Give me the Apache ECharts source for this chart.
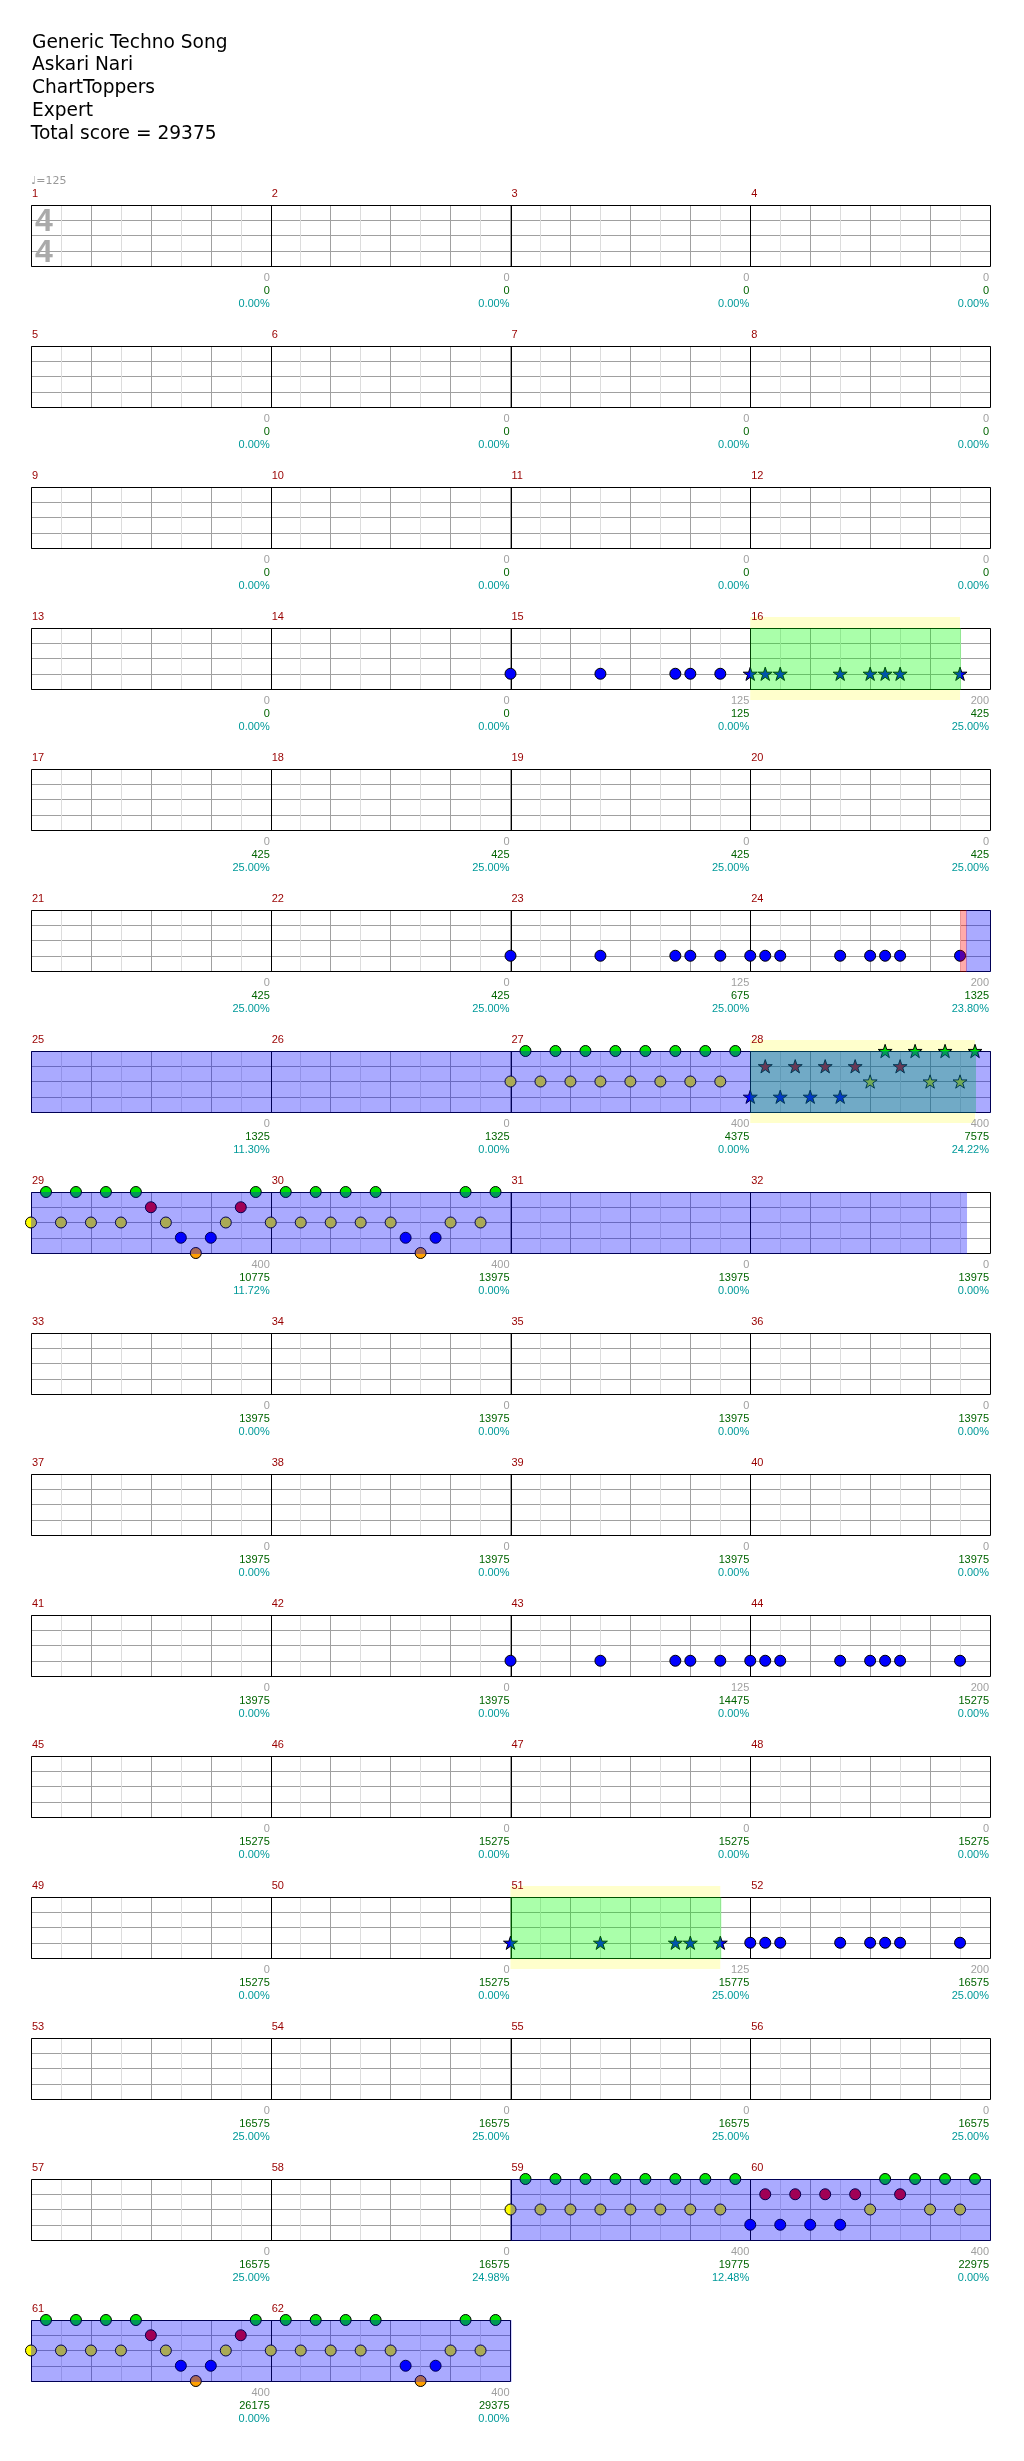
<!DOCTYPE html>
<html><head><meta charset="utf-8"><title>Chart</title>
<script src="https://cdn.jsdelivr.net/npm/echarts@6.0.0/dist/echarts.min.js"></script>
<style>html,body{margin:0;padding:0;background:#fff;}#chart{width:1024px;height:2461px;}</style>
</head><body><div id="chart"></div>
<script>
// ---------------- DATA ----------------
const headerLines = ['Generic Techno Song', 'Askari Nari', 'ChartToppers', 'Expert', 'Total score = 29375'];
const tempoLabel = '\u2669=125';
const timeSignature = ['4', '4'];
const measureCount = 62;
const measuresPerRow = 4;
// lanes: 0 green, 1 red, 2 yellow, 3 blue, 4 orange ; notes are [measure, beat]
const greenNotes = [
  [27,0.25],[27,0.75],[27,1.25],[27,1.75],[27,2.25],[27,2.75],[27,3.25],[27,3.75],
  [28,2.25],[28,2.75],[28,3.25],[28,3.75],
  [29,0.25],[29,0.75],[29,1.25],[29,1.75],[29,3.75],
  [30,0.25],[30,0.75],[30,1.25],[30,1.75],[30,3.25],[30,3.75],
  [59,0.25],[59,0.75],[59,1.25],[59,1.75],[59,2.25],[59,2.75],[59,3.25],[59,3.75],
  [60,2.25],[60,2.75],[60,3.25],[60,3.75],
  [61,0.25],[61,0.75],[61,1.25],[61,1.75],[61,3.75],
  [62,0.25],[62,0.75],[62,1.25],[62,1.75],[62,3.25],[62,3.75]
];
const redNotes = [
  [28,0.25],[28,0.75],[28,1.25],[28,1.75],[28,2.5],
  [29,2],[29,3.5],
  [60,0.25],[60,0.75],[60,1.25],[60,1.75],[60,2.5],
  [61,2],[61,3.5]
];
const yellowNotes = [
  [27,0],[27,0.5],[27,1],[27,1.5],[27,2],[27,2.5],[27,3],[27,3.5],
  [28,2],[28,3],[28,3.5],
  [29,0],[29,0.5],[29,1],[29,1.5],[29,2.25],[29,3.25],
  [30,0],[30,0.5],[30,1],[30,1.5],[30,2],[30,3],[30,3.5],
  [59,0],[59,0.5],[59,1],[59,1.5],[59,2],[59,2.5],[59,3],[59,3.5],
  [60,2],[60,3],[60,3.5],
  [61,0],[61,0.5],[61,1],[61,1.5],[61,2.25],[61,3.25],
  [62,0],[62,0.5],[62,1],[62,1.5],[62,2],[62,3],[62,3.5]
];
const blueNotes = [
  [15,0],[15,1.5],[15,2.75],[15,3],[15,3.5],
  [16,0],[16,0.25],[16,0.5],[16,1.5],[16,2],[16,2.25],[16,2.5],[16,3.5],
  [23,0],[23,1.5],[23,2.75],[23,3],[23,3.5],
  [24,0],[24,0.25],[24,0.5],[24,1.5],[24,2],[24,2.25],[24,2.5],[24,3.5],
  [28,0],[28,0.5],[28,1],[28,1.5],
  [29,2.5],[29,3],
  [30,2.25],[30,2.75],
  [43,0],[43,1.5],[43,2.75],[43,3],[43,3.5],
  [44,0],[44,0.25],[44,0.5],[44,1.5],[44,2],[44,2.25],[44,2.5],[44,3.5],
  [51,0],[51,1.5],[51,2.75],[51,3],[51,3.5],
  [52,0],[52,0.25],[52,0.5],[52,1.5],[52,2],[52,2.25],[52,2.5],[52,3.5],
  [60,0],[60,0.5],[60,1],[60,1.5],
  [61,2.5],[61,3],
  [62,2.25],[62,2.75]
];
const orangeNotes = [[29,2.75],[30,2.5],[61,2.75],[62,2.5]];
// star phrases, star power, activation: [start, end] in measure units
const starPhrases = [[16, 16.875], [28, 28.9375], [51, 51.875]];
const starPowerRanges = [[24.9, 32.9], [59, 63]];
const activationRanges = [[24.875, 24.9]];
const measureScores = [
  0,0,0,0, 0,0,0,0, 0,0,0,0,
  0,0,125,200,
  0,0,0,0,
  0,0,125,200,
  0,0,400,400,
  400,400,0,0,
  0,0,0,0, 0,0,0,0,
  0,0,125,200,
  0,0,0,0,
  0,0,125,200,
  0,0,0,0,
  0,0,400,400,
  400,400
];
const cumulativeScores = [
  0,0,0,0, 0,0,0,0, 0,0,0,0,
  0,0,125,425,
  425,425,425,425,
  425,425,675,1325,
  1325,1325,4375,7575,
  10775,13975,13975,13975,
  13975,13975,13975,13975, 13975,13975,13975,13975,
  13975,13975,14475,15275,
  15275,15275,15275,15275,
  15275,15275,15775,16575,
  16575,16575,16575,16575,
  16575,16575,19775,22975,
  26175,29375
];
const percentages = [
  '0.00%','0.00%','0.00%','0.00%', '0.00%','0.00%','0.00%','0.00%', '0.00%','0.00%','0.00%','0.00%',
  '0.00%','0.00%','0.00%','25.00%',
  '25.00%','25.00%','25.00%','25.00%',
  '25.00%','25.00%','25.00%','23.80%',
  '11.30%','0.00%','0.00%','24.22%',
  '11.72%','0.00%','0.00%','0.00%',
  '0.00%','0.00%','0.00%','0.00%', '0.00%','0.00%','0.00%','0.00%',
  '0.00%','0.00%','0.00%','0.00%',
  '0.00%','0.00%','0.00%','0.00%',
  '0.00%','0.00%','25.00%','25.00%',
  '25.00%','25.00%','25.00%','25.00%',
  '25.00%','24.98%','12.48%','0.00%',
  '0.00%','0.00%'
];

// ---------------- LAYOUT / STYLE ----------------
const FONT = '"DejaVu Sans", sans-serif';
const SMALL_FONT = '11px "Liberation Sans", Arial, sans-serif';
const laneColors = ['#00e600', '#f00000', '#ffff00', '#0000ff', '#ffa000'];
const laneNotes = [greenNotes, redNotes, yellowNotes, blueNotes, orangeNotes];
const STAR = 'path://M0,-10L2.245,-3.09L9.51,-3.09L3.633,1.18L5.878,8.09L0,3.82L-5.878,8.09L-3.633,1.18L-9.51,-3.09L-2.245,-3.09Z';
const LEFT = 31, ROW_TOP = 205, ROW_STEP = 141, STAFF_H = 61, MEASURE_W = 239.75;

const rows = [];
for (let r = 0; r * measuresPerRow < measureCount; r++) {
  rows.push({ first: r * measuresPerRow + 1, count: Math.min(measuresPerRow, measureCount - r * measuresPerRow) });
}
function clipRanges(ranges, a, b) {
  const out = [];
  ranges.forEach(([s, e]) => {
    const s2 = Math.max(s, a), e2 = Math.min(e, b);
    if (e2 > s2) out.push([s2, e2, 0]);
  });
  return out;
}
function isStar(pos) {
  return starPhrases.some(([a, b]) => pos >= a - 1e-9 && pos <= b + 1e-9);
}
function overlayRenderer(color) {
  return function (params, api) {
    const p0 = api.coord([api.value(0), 0]);
    const p1 = api.coord([api.value(1), 4]);
    return { type: 'rect', shape: { x: p0[0], y: Math.floor(p0[1]), width: p1[0] - p0[0] + 1, height: Math.floor(p1[1]) - Math.floor(p0[1]) + 1 }, style: { fill: color } };
  };
}
function yellowRenderer(params, api) {
  const p0 = api.coord([api.value(0), 0]);
  const p1 = api.coord([api.value(1), 4]);
  return { type: 'group', children: [
    { type: 'rect', shape: { x: p0[0], y: p0[1] - 11, width: p1[0] - p0[0], height: 11 }, style: { fill: '#ffffcc' } },
    { type: 'rect', shape: { x: p0[0], y: p1[1], width: p1[0] - p0[0], height: 11 }, style: { fill: '#ffffcc' } }
  ] };
}
function frameRenderer(params, api) {
  const p0 = api.coord([api.value(0), 0]);
  const p1 = api.coord([api.value(1), 4]);
  const x0 = Math.floor(p0[0]) + 0.5, y0 = Math.floor(p0[1]) + 0.5;
  const x1 = Math.floor(p1[0]) + 0.5, y1 = Math.floor(p1[1]) + 0.5;
  return { type: 'rect', shape: { x: x0, y: y0, width: x1 - x0, height: y1 - y0 }, style: { fill: null, stroke: '#000', lineWidth: 1 } };
}
function measureLineRenderer(params, api) {
  const m = api.value(0);
  const p0 = api.coord([m, 0]);
  const p1 = api.coord([m, 4]);
  const x = Math.floor(p0[0] + 0.5) + 0.5;
  return { type: 'line', shape: { x1: x, y1: Math.floor(p0[1]), x2: x, y2: Math.floor(p1[1]) + 1 }, style: { stroke: '#000', lineWidth: 1 } };
}
function labelRenderer(params, api) {
  const m = api.value(0);
  const i = m - 1;
  const s = api.coord([m, 0]);
  const e = api.coord([m + 1, 4]);
  return { type: 'group', children: [
    { type: 'text', x: s[0] + 1, y: s[1] - 11, style: { text: String(m), fill: '#990000', font: SMALL_FONT, align: 'left', verticalAlign: 'middle' } },
    { type: 'text', x: e[0] - 1, y: e[1] + 11.5, style: { text: String(measureScores[i]), fill: '#a0a0a0', font: SMALL_FONT, align: 'right', verticalAlign: 'middle' } },
    { type: 'text', x: e[0] - 1, y: e[1] + 24.5, style: { text: String(cumulativeScores[i]), fill: '#006400', font: SMALL_FONT, align: 'right', verticalAlign: 'middle' } },
    { type: 'text', x: e[0] - 1, y: e[1] + 37.8, style: { text: percentages[i], fill: '#009a9a', font: SMALL_FONT, align: 'right', verticalAlign: 'middle' } }
  ] };
}

const grids = [], xAxes = [], yAxes = [], series = [];
const hidden = { axisLine: { show: false }, axisTick: { show: false }, axisLabel: { show: false } };
rows.forEach((row, r) => {
  const x0 = row.first, x1 = row.first + row.count;
  grids.push({ left: LEFT, top: ROW_TOP + ROW_STEP * r, width: MEASURE_W * row.count, height: STAFF_H, outerBoundsMode: 'none', containLabel: false, show: false });
  xAxes.push(Object.assign({ gridIndex: r, type: 'value', min: x0, max: x1, interval: 0.25,
    splitLine: { show: true, lineStyle: { color: '#a0a0a0', width: 1 } },
    minorTick: { show: false, splitNumber: 2 },
    minorSplitLine: { show: true, lineStyle: { color: '#dcdcdc', width: 1 } } }, hidden));
  yAxes.push(Object.assign({ gridIndex: r, type: 'value', inverse: true, min: 0, max: 4, interval: 1,
    splitLine: { show: true, lineStyle: { color: '#a0a0a0', width: 1 } } }, hidden));
  const ax = { xAxisIndex: r, yAxisIndex: r };
  series.push(Object.assign({ type: 'custom', z: 1, silent: true, encode: { x: [0, 1], y: 2 }, data: clipRanges(starPhrases, x0, x1), renderItem: yellowRenderer }, ax));
  const bars = [];
  for (let m = x0 + 1; m < x1; m++) bars.push([m, 0]);
  series.push(Object.assign({ type: 'custom', z: 2, silent: true, encode: { x: 0, y: 1 }, data: bars, renderItem: measureLineRenderer }, ax));
  series.push(Object.assign({ type: 'custom', z: 2, silent: true, encode: { x: [0, 1], y: 2 }, data: [[x0, x1, 0]], renderItem: frameRenderer }, ax));
  const notes = [];
  laneNotes.forEach((list, lane) => {
    list.forEach(([m, b]) => {
      if (m < x0 || m >= x1) return;
      const pos = m + b / 4;
      const star = isStar(pos);
      notes.push({ value: [pos, lane], symbol: star ? STAR : 'circle', symbolSize: star ? 14 : 11,
        itemStyle: { color: laneColors[lane], borderColor: '#000', borderWidth: 1, opacity: 1 } });
    });
  });
  series.push(Object.assign({ type: 'scatter', z: 3, clip: false, silent: true, symbolKeepAspect: true, data: notes }, ax));
  series.push(Object.assign({ type: 'custom', z: 4, silent: true, encode: { x: [0, 1], y: 2 }, data: clipRanges(starPhrases, x0, x1), renderItem: overlayRenderer('rgba(0,255,0,0.333)') }, ax));
  series.push(Object.assign({ type: 'custom', z: 4, silent: true, encode: { x: [0, 1], y: 2 }, data: clipRanges(activationRanges, x0, x1), renderItem: overlayRenderer('rgba(255,0,0,0.333)') }, ax));
  series.push(Object.assign({ type: 'custom', z: 4, silent: true, encode: { x: [0, 1], y: 2 }, data: clipRanges(starPowerRanges, x0, x1), renderItem: overlayRenderer('rgba(0,0,255,0.333)') }, ax));
  const ms = [];
  for (let m = x0; m < x1; m++) ms.push([m, 0]);
  series.push(Object.assign({ type: 'custom', z: 5, silent: true, encode: { x: 0, y: 1 }, data: ms, renderItem: labelRenderer }, ax));
});

const headerY = [42.7, 65.2, 88.3, 110.7, 134.3];
const graphic = headerLines.map((t, i) => ({ type: 'text', x: i === 4 ? 30.7 : 32, y: headerY[i], z: 10,
  style: { text: t, font: '18.6px ' + FONT, fill: '#000', verticalAlign: 'middle' } }));
graphic.push({ type: 'text', x: 31, y: 181.5, z: 10, style: { text: tempoLabel, font: '11px ' + FONT, fill: '#999', verticalAlign: 'middle' } });
graphic.push({ type: 'text', x: 35, y: 222, z: 1, style: { text: timeSignature[0], font: 'bold 32px "Liberation Sans", sans-serif', fill: '#aaaaaa', verticalAlign: 'middle' } });
graphic.push({ type: 'text', x: 35, y: 253, z: 1, style: { text: timeSignature[1], font: 'bold 32px "Liberation Sans", sans-serif', fill: '#aaaaaa', verticalAlign: 'middle' } });

const option = {
  animation: false,
  backgroundColor: '#ffffff',
  grid: grids,
  xAxis: xAxes,
  yAxis: yAxes,
  series: series,
  graphic: graphic
};
const chart = echarts.init(document.getElementById('chart'), null, { renderer: 'canvas', width: 1024, height: 2461 });
chart.setOption(option);
</script></body></html>
